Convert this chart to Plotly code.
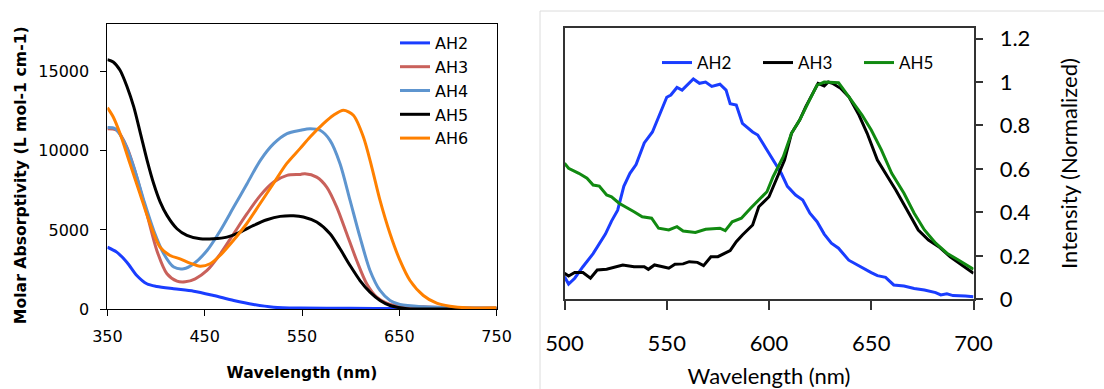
import plotly.graph_objects as go

# ---------------- Left panel: absorption (Molar absorptivity) ----------------
ah2_abs_x = [350, 359.6, 370, 380.2, 390.5, 400.8, 418, 438.7, 459.1, 479.8, 500.2, 520.9, 548.3, 600, 650, 700, 750]
ah2_abs_y = [3910, 3595, 2962, 2120, 1595, 1424, 1278, 1127, 854, 538, 285, 116, 60, 40, 30, 30, 30]

ah3_abs_x = [350, 359.6, 370, 380.2, 390.5, 400.8, 411.2, 421.5, 430, 440.3, 452.4, 466.1, 479.8, 493.5, 507.2,
             520.9, 534.6, 548.3, 553, 565.1, 575.4, 585.7, 596, 606.2, 616.5, 626.8, 637.1, 650.7, 674.7, 709, 750]
ah3_abs_y = [11400, 11300, 10240, 8340, 6025, 3700, 2225, 1760, 1720, 1910, 2437, 3490, 4760, 6025, 7183,
             8025, 8450, 8510, 8555, 8340, 7710, 6445, 4760, 3070, 1595, 747, 367, 177, 140, 75, 60]

ah4_abs_x = [350, 358, 366.4, 377.1, 387.4, 397.6, 407.9, 418.2, 428.5, 438.7, 452.4, 466.1, 479.8, 493.5, 507.2,
             520.9, 534.6, 548.3, 558.3, 568.6, 578.8, 589.1, 599.4, 609.6, 619.9, 630.2, 640.5, 650.7, 674.7, 709, 750]
ah4_abs_y = [11470, 11400, 10665, 8975, 6867, 4968, 3490, 2650, 2543, 2860, 3700, 4968, 6445, 7920, 9400,
             10455, 11090, 11300, 11400, 11300, 10665, 9190, 6867, 4545, 2437, 1170, 540, 285, 140, 75, 60]

ah5_abs_x = [350, 356, 363, 370.3, 377.1, 384, 390.8, 397.6, 404.3, 411.2, 421.5, 431.7, 445.4, 459.1, 472.8,
             486.5, 500.2, 513.9, 527.6, 541.3, 551.4, 565.1, 578.8, 589.1, 599.4, 609.6, 619.9, 630.2, 640.5,
             650.7, 661, 680, 750]
ah5_abs_y = [15770, 15620, 15095, 14040, 12775, 11090, 9400, 7920, 6760, 5920, 5075, 4650, 4440, 4440, 4545,
             4860, 5285, 5640, 5855, 5895, 5820, 5495, 4757, 3808, 2750, 1800, 1065, 540, 220,
             75, 0, 0, 0]

ah6_abs_x = [350, 356, 363, 373.2, 383.5, 393.8, 404.1, 414.4, 424.6, 434.9, 445.2, 455.5, 465.7, 479.4, 493.1,
             506.8, 520.5, 534.2, 547.9, 558.3, 572, 582.3, 592.6, 602.8, 613.1, 621.7, 630.2, 640.5, 650.7,
             661, 674.7, 688.4, 702.1, 719.3, 750]
ah6_abs_y = [12730, 12140, 11090, 9190, 7290, 5390, 3910, 3385, 3175, 2900, 2710, 2860, 3385, 4335, 5390,
             6657, 7920, 9190, 10140, 10875, 11720, 12250, 12565, 12250, 10875, 8975, 6867, 4760, 3070,
             1800, 855, 367, 177, 75, 75]

abs_x_ticks = [350, 450, 550, 650, 750]
abs_y_ticks = [0, 5000, 10000, 15000]

# ---------------- Right panel: emission (normalized intensity) ----------------
ah2_em_x = [500, 502, 505, 509, 514, 520, 523, 526, 529, 532, 535, 539, 543, 547, 550, 552, 555, 557.5, 560, 563,
            566, 569, 572, 576, 579, 581, 584, 587, 592, 594.5, 599, 602, 606, 609, 613, 616.5, 620, 623.5, 627,
            630.5, 634, 639, 644.5, 650, 653, 657, 661, 666, 671, 676, 681.5, 684, 687, 690, 696, 700]
ah2_em_y = [0.104, 0.07, 0.097, 0.15, 0.21, 0.30, 0.36, 0.41, 0.52, 0.58, 0.62, 0.72, 0.77, 0.86, 0.93, 0.94,
            0.975, 0.963, 0.986, 1.014, 0.994, 1.0, 0.98, 0.99, 0.963, 0.90, 0.894, 0.81, 0.77, 0.756, 0.687,
            0.64, 0.58, 0.52, 0.48, 0.457, 0.396, 0.357, 0.30, 0.258, 0.235, 0.18, 0.15, 0.123, 0.109, 0.101,
            0.066, 0.061, 0.05, 0.043, 0.031, 0.02, 0.025, 0.017, 0.015, 0.012]

ah3_em_x = [500, 502, 505, 509, 512.7, 516, 520.6, 525, 528.5, 534, 539, 541, 544, 548, 551, 554, 558, 561, 565,
            568, 571.6, 575, 578.6, 581, 584, 587, 592, 595, 600, 604, 607.6, 611, 615, 618, 622, 624, 627, 629,
            631, 635, 639, 644, 648, 653, 658, 662, 667.5, 673, 678, 683, 688.6, 694, 700]
ah3_em_y = [0.12, 0.107, 0.123, 0.123, 0.097, 0.135, 0.138, 0.15, 0.158, 0.15, 0.15, 0.138, 0.158, 0.15, 0.143,
            0.161, 0.163, 0.173, 0.17, 0.155, 0.196, 0.196, 0.212, 0.224, 0.265, 0.296, 0.342, 0.426, 0.472,
            0.564, 0.641, 0.764, 0.825, 0.887, 0.955, 0.994, 0.982, 1.0, 0.994, 0.971, 0.933, 0.848, 0.764,
            0.641, 0.564, 0.503, 0.411, 0.319, 0.273, 0.242, 0.196, 0.158, 0.12]

ah5_em_x = [500, 502, 507, 511, 514, 517, 520.6, 523, 526.7, 530, 534, 538, 542.6, 546, 551, 555, 558, 564, 569,
            576, 578.6, 582, 586.5, 591, 595, 599, 602, 607, 611, 615, 619, 623.5, 627, 634, 639, 645.5, 650,
            655, 660, 666, 671, 676, 681.5, 687, 692, 700]
ah5_em_y = [0.626, 0.603, 0.58, 0.557, 0.526, 0.521, 0.48, 0.472, 0.442, 0.426, 0.403, 0.38, 0.373, 0.327,
            0.319, 0.334, 0.314, 0.308, 0.322, 0.327, 0.316, 0.357, 0.373, 0.419, 0.457, 0.495, 0.564, 0.656,
            0.764, 0.825, 0.902, 0.986, 1.0, 0.997, 0.933, 0.848, 0.779, 0.687, 0.58, 0.488, 0.396, 0.319,
            0.258, 0.212, 0.184, 0.138]

em_x_ticks = [500, 550, 600, 650, 700]
em_y_ticks = [0, 0.2, 0.4, 0.6, 0.8, 1, 1.2]

LEFT_FONT = "DejaVu Sans"
RIGHT_FONT = "Lato"

fig = go.Figure()

abs_series = [
    ("AH2", ah2_abs_x, ah2_abs_y, "#1a3dff"),
    ("AH3", ah3_abs_x, ah3_abs_y, "#c9615b"),
    ("AH4", ah4_abs_x, ah4_abs_y, "#5e95cf"),
    ("AH5", ah5_abs_x, ah5_abs_y, "#000000"),
    ("AH6", ah6_abs_x, ah6_abs_y, "#ff8000"),
]
for name, xs, ys, col in abs_series:
    fig.add_trace(go.Scatter(x=xs, y=ys, name=name, mode="lines",
                             line=dict(color=col, width=3, shape="spline", smoothing=0.8),
                             xaxis="x", yaxis="y", legend="legend"))

em_series = [
    ("AH2", ah2_em_x, ah2_em_y, "#1a3dff"),
    ("AH3", ah3_em_x, ah3_em_y, "#000000"),
    ("AH5", ah5_em_x, ah5_em_y, "#118a11"),
]
for name, xs, ys, col in em_series:
    fig.add_trace(go.Scatter(x=xs, y=ys, name=name, mode="lines",
                             line=dict(color=col, width=3),
                             xaxis="x2", yaxis="y2", legend="legend2"))

W, H = 1104, 389

fig.update_layout(
    width=W, height=H,
    margin=dict(l=0, r=0, t=0, b=0),
    paper_bgcolor="white", plot_bgcolor="white",
    showlegend=True,
    xaxis=dict(domain=[107.4 / W, 496.6 / W], range=[350, 750], tickvals=abs_x_ticks, automargin=False,
               showgrid=False, zeroline=False, showline=True, linecolor="black", linewidth=1, mirror=True,
               ticks="outside", ticklen=6, tickcolor="black", ticklabelstandoff=7,
               tickfont=dict(family=LEFT_FONT, size=16, color="black"),
               title=dict(text="<b>Wavelength (nm)</b>", font=dict(family=LEFT_FONT, size=15.5, color="black"),
                          standoff=21)),
    yaxis=dict(domain=[(H - 309) / H, (H - 24.3) / H], range=[0, 18000], tickvals=abs_y_ticks,
               tickformat="d", automargin=False,
               showgrid=False, zeroline=False, showline=True, linecolor="black", linewidth=1, mirror=True,
               ticks="outside", ticklen=6, tickcolor="black", ticklabelstandoff=8,
               tickfont=dict(family=LEFT_FONT, size=16, color="black")),
    xaxis2=dict(domain=[564.5 / W, 973.5 / W], range=[500, 700], tickvals=em_x_ticks, anchor="y2",
                automargin=False,
                showgrid=False, zeroline=False, showline=True, linecolor="#333333", linewidth=1.5, mirror=True,
                ticks="outside", ticklen=9, tickcolor="#333333", tickwidth=1.5, ticklabelstandoff=15,
                tickfont=dict(family=RIGHT_FONT, size=22, color="black"),
                title=dict(text="Wavelength (nm)", font=dict(family=RIGHT_FONT, size=22, color="black"),
                           standoff=17)),
    yaxis2=dict(domain=[(H - 299.3) / H, (H - 27.7) / H], range=[0, 1.25], tickvals=em_y_ticks,
                anchor="x2", side="right", automargin=False,
                showgrid=False, zeroline=False, showline=True, linecolor="#333333", linewidth=1.5, mirror=True,
                ticks="outside", ticklen=8, tickcolor="#333333", tickwidth=1.5, ticklabelstandoff=12,
                tickfont=dict(family=RIGHT_FONT, size=22, color="black"),
                title=dict(text="Intensity (Normalized)", font=dict(family=RIGHT_FONT, size=22, color="black"),
                           standoff=32)),
    legend=dict(x=395 / W, y=(H - 26) / H, xanchor="left", yanchor="top", bgcolor="rgba(0,0,0,0)",
                font=dict(family=LEFT_FONT, size=16, color="black"), borderwidth=0, traceorder="normal"),
    legend2=dict(orientation="h", x=657 / W, y=(H - 63) / H, xanchor="left", yanchor="middle",
                 bgcolor="rgba(0,0,0,0)", entrywidth=56, entrywidthmode="pixels",
                 font=dict(family=RIGHT_FONT, size=17, color="black"), borderwidth=0),
    annotations=[dict(text="<b>Molar Absorptivity (L mol-1 cm-1)</b>", textangle=-90,
                      xref="paper", yref="paper", x=20.7 / W, y=(H - 175.5) / H,
                      xanchor="center", yanchor="middle", showarrow=False,
                      font=dict(family=LEFT_FONT, size=15.7, color="black"))],
    shapes=[dict(type="rect", xref="paper", yref="paper", x0=540 / W, x1=1.2, y0=-0.2, y1=(H - 11) / H,
                 line=dict(color="#dcdcdc", width=1), fillcolor="rgba(0,0,0,0)", layer="below")],
)

fig.write_html("out.html")
